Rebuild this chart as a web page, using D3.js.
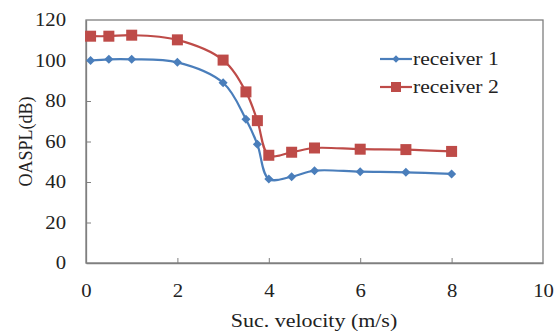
<!DOCTYPE html>
<html>
<head>
<meta charset="utf-8">
<script src="https://cdn.jsdelivr.net/npm/d3@7"></script>
<style>
  body { margin: 0; background: #fff; }
</style>
</head>
<body>
<div class="chart"></div>
<script>
// suction velocity (m/s)
const velocity = [0.1, 0.5, 1, 2, 3, 3.5, 3.75, 4, 4.5, 5, 6, 7, 8];
const receiver1 = [100, 100.6, 100.6, 99.1, 89, 71, 58.6, 41.5, 42.6, 45.6, 45.1, 44.8, 44];
const receiver2 = [112, 112, 112.5, 110.2, 100.2, 84.5, 70.3, 53.2, 54.7, 56.8, 56.2, 56, 55.1];
const seriesNames = ["receiver 1", "receiver 2"];
const xTicks = [0, 2, 4, 6, 8, 10];
const yTicks = [0, 20, 40, 60, 80, 100, 120];

const width = 556, height = 334;
const margin = { top: 20, right: 13, bottom: 71, left: 86 };
const serif = "'Liberation Serif', 'Times New Roman', serif";

// the original picture is a bit wider than tall, so the text looks stretched
function stretch(sel, k) {
    sel.each(function () {
        let w = this.getComputedTextLength();
        d3.select(this).attr("textLength", w * k).attr("lengthAdjust", "spacingAndGlyphs");
    });
}

const svg = d3.select(".chart").append("svg")
    .attr("width", width).attr("height", height)
    .attr("font-family", serif);

const x = d3.scaleLinear().domain([0, 10]).range([margin.left, width - margin.right]);
const y = d3.scaleLinear().domain([0, 120]).range([height - margin.bottom, margin.top]);

// frame
svg.append("rect")
    .attr("x", x(0)).attr("y", y(120))
    .attr("width", x(10) - x(0)).attr("height", y(0) - y(120))
    .attr("fill", "none").attr("stroke", "#7f7f7f").attr("stroke-width", 1.3);

// axes, ticks point inward
const xAxis = svg.append("g")
    .attr("transform", `translate(0,${y(0)})`)
    .call(d3.axisBottom(x).tickValues(xTicks).tickSize(-5).tickPadding(21).tickSizeOuter(0));
const yAxis = svg.append("g")
    .attr("transform", `translate(${x(0)},0)`)
    .call(d3.axisLeft(y).tickValues(yTicks).tickSize(-5).tickPadding(20).tickSizeOuter(0));

[xAxis, yAxis].forEach(function (g) {
    g.attr("font-family", serif).attr("font-size", 18);
    g.select(".domain").attr("stroke", "#7f7f7f").attr("stroke-width", 1.3);
    g.selectAll(".tick line").attr("stroke", "#7f7f7f");
    g.selectAll(".tick text").style("font-family", serif).attr("fill", "#222");
    stretch(g.selectAll(".tick text"), 1.15);
});
// no tick marks on the corners
xAxis.selectAll(".tick line").filter(d => d === 0 || d === 10).remove();
yAxis.selectAll(".tick line").filter(d => d === 0 || d === 120).remove();

// axis titles
svg.append("text")
    .attr("x", 314).attr("y", 327)
    .attr("text-anchor", "middle")
    .style("font-family", serif).style("font-size", "18px").attr("fill", "#222")
    .text("Suc. velocity (m/s)")
    .call(stretch, 1.22);
svg.append("text")
    .attr("transform", `translate(32,${(y(0) + y(120)) / 2}) rotate(-90)`)
    .attr("text-anchor", "middle")
    .style("font-family", serif).style("font-size", "18px").attr("fill", "#222")
    .text("OASPL(dB)");

const colors = ["#4a7ebb", "#be4b48"];
const line = d3.line()
    .x((d, i) => x(velocity[i]))
    .y(d => y(d))
    .curve(d3.curveCatmullRom.alpha(0.5));

const allSeries = [receiver1, receiver2];
allSeries.forEach(function (vals, s) {
    svg.append("path")
        .datum(vals)
        .attr("d", line)
        .attr("fill", "none")
        .attr("stroke", colors[s])
        .attr("stroke-width", 2.2);
});

// markers
const diamond = d3.symbol().type(d3.symbolDiamond2).size(52);
svg.append("g").selectAll("path")
    .data(receiver1)
    .enter().append("path")
    .attr("d", diamond)
    .attr("transform", (d, i) => `translate(${x(velocity[i])},${y(d)})`)
    .attr("fill", colors[0]);

svg.append("g").selectAll("rect")
    .data(receiver2)
    .enter().append("rect")
    .attr("x", (d, i) => x(velocity[i]) - 5.5)
    .attr("y", d => y(d) - 5.5)
    .attr("width", 11).attr("height", 11)
    .attr("fill", colors[1]);

// legend
const legend = svg.append("g").attr("transform", "translate(380,59)");
seriesNames.forEach(function (name, s) {
    const g = legend.append("g").attr("transform", `translate(0,${s * 28})`);
    g.append("line").attr("x1", 0).attr("x2", 32).attr("y1", 0).attr("y2", 0)
        .attr("stroke", colors[s]).attr("stroke-width", 2.2);
    if (s === 0) {
        g.append("path").attr("d", d3.symbol().type(d3.symbolDiamond2).size(36))
            .attr("transform", "translate(16,0)").attr("fill", colors[0]);
    } else {
        g.append("rect").attr("x", 11).attr("y", -5).attr("width", 10).attr("height", 10).attr("fill", colors[1]);
    }
    g.append("text").attr("x", 33).attr("y", 6)
        .style("font-family", serif).style("font-size", "18px").attr("fill", "#222")
        .text(name)
        .call(stretch, 1.2);
});
</script>
</body>
</html>
